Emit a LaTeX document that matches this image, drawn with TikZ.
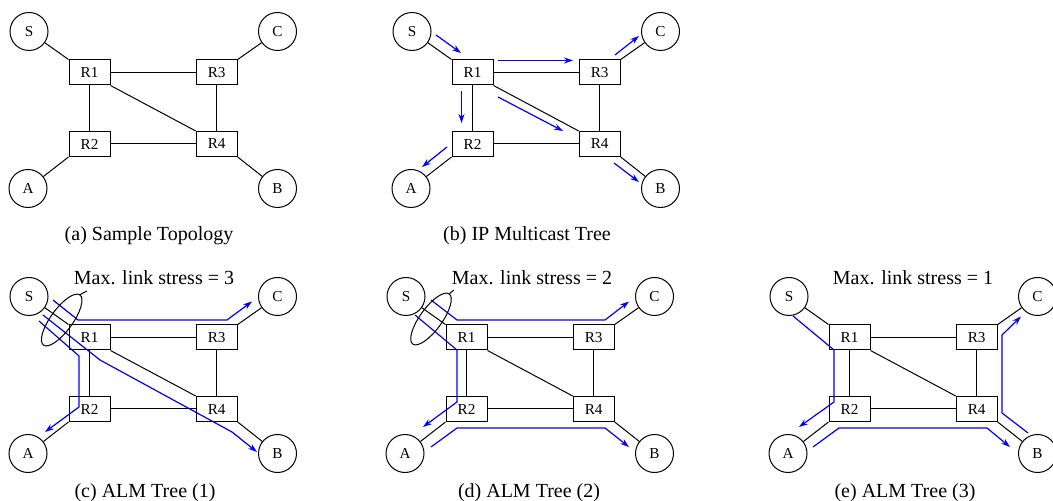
\documentclass[tikz,border=0pt]{standalone}
\usepackage{fontspec}
\setmainfont{Liberation Serif}
\usetikzlibrary{calc,shapes.geometric,arrows.meta}

\begin{document}
\begin{tikzpicture}[
				x=0.5pt, y=-0.5pt,
				host/.style={circle, draw=black!100, line width=0.5pt, minimum size=19pt, inner sep=0pt, font=\fontsize{7.6}{9}\selectfont},
				router/.style={rectangle, draw=black!100, line width=0.5pt, minimum width=20.5pt, minimum height=12.5pt, inner sep=0pt, font=\fontsize{7.6}{9}\selectfont},
				link/.style={line width=0.5pt},
				flow/.style={blue, line width=0.6pt, -{Stealth[length=4.5pt,width=3pt]}},
				ring/.style={ellipse, draw=black!100, line width=0.5pt, minimum width=31pt, minimum height=11pt, inner sep=0pt},
				caption/.style={anchor=base, font=\fontsize{10}{12}\selectfont}
			]
			\useasboundingbox (0,0) rectangle (1053,501);
			% same topology in all five panels
			\foreach \p/\dx/\dy in {a/0/0, b/383/0, c/0/265, d/377/265, e/760/265} {
			\begin{scope}[shift={(\dx,\dy)}]
			\node[host] (\p-S) at (29,31.5) {S};
			\node[host] (\p-C) at (277.5,31.5) {C};
			\node[host] (\p-A) at (28,188.5) {A};
			\node[host] (\p-B) at (277.5,188.5) {B};
			\node[router] (\p-R1) at (89.5,72.5) {R1};
			\node[router] (\p-R3) at (216.7,72.5) {R3};
			\node[router] (\p-R2) at (89.5,144) {R2};
			\node[router] (\p-R4) at (216.7,144) {R4};
			\begin{scope}[link]
			\draw (\p-S) -- (\p-R1.north west);
			\draw (\p-C) -- (\p-R3.north east);
			\draw (\p-A) -- (\p-R2.south west);
			\draw (\p-B) -- (\p-R4.south east);
			\draw (\p-R1) -- (\p-R3);
			\draw (\p-R1) -- (\p-R2);
			\draw (\p-R3) -- (\p-R4);
			\draw (\p-R2) -- (\p-R4);
			\draw (\p-R1.south east) -- (\p-R4.north west);
			\end{scope}
			\end{scope}
			}
			% captions
			\node[caption] (a-cap) at (149,241) {(a) Sample Topology};
			\node[caption] (b-cap) at (527,241) {(b) IP Multicast Tree};
			\node[caption] (c-cap) at (145,497.5) {(c) ALM Tree (1)};
			\node[caption] (d-cap) at (529,497.5) {(d) ALM Tree (2)};
			\node[caption] (e-cap) at (905,497.5) {(e) ALM Tree (3)};
			% ip multicast
			\draw[flow] ($(b-S)+(24,3.5)$) -- ($(b-R1)+(-11.5,-19.5)$);
			\draw[flow] ($(b-R1)+(25.5,-12)$) -- ($(b-R3)+(-26.7,-12)$);
			\draw[flow] ($(b-R3)+(15.3,-17.5)$) -- ($(b-C)+(-21.5,4.5)$);
			\draw[flow] ($(b-R1)+(-11,18.5)$) -- ($(b-R2)+(-11,-21)$);
			\draw[flow] ($(b-R1)+(25.5,24.5)$) -- ($(b-R4)+(-36.7,-13)$);
			\draw[flow] ($(b-R2)+(-25.5,3)$) -- ($(b-A)+(11,-21.5)$);
			\draw[flow] ($(b-R4)+(14.3,19)$) -- ($(b-B)+(-21.5,-6.5)$);
			% alm tree 1
			\draw[flow] ($(c-S)+(24,3.5)$) -- ($(c-R1)+(-11.5,-17.5)$) -- ($(c-R3)+(10.3,-17.5)$) -- ($(c-C)+(-25.5,5)$);
			\draw[flow] ($(c-S)+(10,24.5)$) -- ($(c-R1)+(-10.5,18.5)$) -- ($(c-R2)+(-10.5,-2)$) -- ($(c-A)+(17,-21.5)$);
			\draw[flow] ($(c-S)+(14,18.5)$) -- ($(c-R1)+(10.5,22.5)$) -- ($(c-R4)+(15.3,23)$) -- ($(c-B)+(-20.5,-1.5)$);
			% alm tree 2
			\draw[flow] ($(d-S)+(25,3.5)$) -- ($(d-R1)+(-9.5,-17.5)$) -- ($(d-R3)+(11.3,-17.5)$) -- ($(d-C)+(-25.5,5)$);
			\draw[flow] ($(d-S)+(9,18.5)$) -- ($(d-R1)+(-9.5,12.5)$) -- ($(d-R2)+(-9.5,-7)$) -- ($(d-A)+(18,-26.5)$);
			\draw[flow] ($(d-A)+(26,-6.5)$) -- ($(d-R2)+(-9.5,19)$) -- ($(d-R4)+(11.3,19)$) -- ($(d-B)+(-25.5,-6.5)$);
			% alm tree 3
			\draw[flow] ($(e-S)+(4,19.5)$) -- ($(e-R1)+(-15.5,12.5)$) -- ($(e-R2)+(-15.5,-7)$) -- ($(e-A)+(11,-26.5)$);
			\draw[flow] ($(e-A)+(25,-6.5)$) -- ($(e-R2)+(-10.5,19)$) -- ($(e-R4)+(10.3,19)$) -- ($(e-B)+(-27.5,-6.5)$);
			\draw[flow] ($(e-B)+(-9.5,-20.5)$) -- ($(e-R4)+(25.3,4)$) -- ($(e-R3)+(25.3,-2.5)$) -- ($(e-C)+(-16.5,20)$);
			% link stress notes
			\node[caption] (c-note) at (154,285) {Max. link stress = 3};
			\node[caption] (d-note) at (532,285) {Max. link stress = 2};
			\node[caption] (e-note) at (913,285) {Max. link stress = 1};
			\node[ring, rotate=54] (c-ring) at ($(c-S)+(32.7,23.5)$) {};
			\node[ring, rotate=54] (d-ring) at ($(d-S)+(25,22.5)$) {};
			\coordinate (c-tip) at ($(c-note.base west)+(20,6)$);
			\coordinate (d-tip) at ($(d-note.base west)+(9,5)$);
			\draw[link] (c-ring.east) -- (c-tip);
			\draw[link] (d-ring.east) -- (d-tip);
			\end{tikzpicture}
\end{document}
